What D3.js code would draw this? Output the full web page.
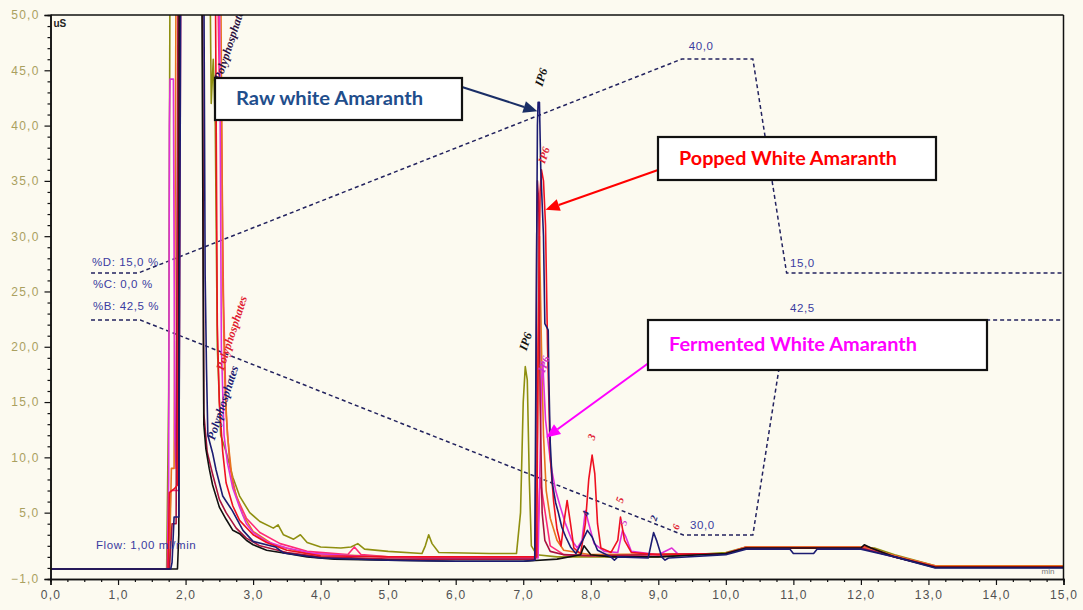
<!DOCTYPE html>
<html><head><meta charset="utf-8">
<script src="https://cdn.jsdelivr.net/npm/d3@7"></script>
<style>
html,body{margin:0;padding:0;background:#fcfaf0;}
svg{display:block;}
</style></head><body>
<svg id="chart" width="1083" height="610"></svg>
<script>
// ---- chromatogram traces: [retention time (min), conductivity (uS)] ----
const rawWhite = [[0,-0.1],[1.78,-0.1],[1.8,0.5],[1.83,4.6],[1.9,4.6],[1.93,55],[2.27,55],[2.29,26.5],[2.31,18],[2.33,12],[2.4,10.4],[2.45,8.9],[2.55,6.5],[2.69,5.2],[2.85,3.4],[3.0,2.4],[3.33,1.9],[3.45,1.35],[4.0,0.9],[5,0.7],[6,0.6],[7.0,0.6],[7.17,0.7],[7.19,20],[7.21,40],[7.22,42.1],[7.24,42.1],[7.26,36],[7.3,30],[7.32,22.1],[7.37,21.5],[7.38,17],[7.4,11.3],[7.43,7.7],[7.48,5.9],[7.52,5.0],[7.57,3.7],[7.63,2.8],[7.7,1.9],[7.78,1.3],[7.88,2.5],[7.95,3.4],[8.02,2.8],[8.1,1.6],[8.3,1.0],[8.35,0.7],[8.4,1.0],[8.85,0.9],[8.93,3.2],[8.98,2.4],[9.05,1.0],[9.1,0.7],[9.15,0.9],[10,1.2],[10.3,1.7],[10.95,1.7],[11.0,1.3],[11.3,1.3],[11.35,1.7],[12,1.7],[12.5,1.0],[13.1,0.0],[15,0.0]];
const poppedWhite = [[0,-0.1],[1.74,-0.1],[1.76,6.8],[1.84,7.2],[1.88,7.5],[1.91,55],[2.44,55],[2.47,22],[2.5,15],[2.55,10.5],[2.6,7.7],[2.7,5.6],[2.8,4.3],[3.0,3.0],[3.2,2.3],[3.5,1.6],[4.0,1.1],[5,1.0],[7.0,1.0],[7.2,1.0],[7.22,20],[7.25,34],[7.27,36],[7.3,35],[7.33,31],[7.36,20],[7.4,10],[7.45,6],[7.5,3.5],[7.56,2],[7.6,4],[7.65,6.1],[7.7,4],[7.75,1.8],[7.85,1.3],[7.92,4],[7.97,8],[8.02,10.2],[8.06,8.5],[8.1,4],[8.15,1.8],[8.3,1.4],[8.4,2.5],[8.44,4.6],[8.5,2.5],[8.6,1.4],[9.0,1.2],[10,1.3],[10.3,1.8],[12,1.8],[12.05,2.0],[12.15,1.8],[12.5,1.0],[13.1,0.1],[15,0.1]];
const fermentedWhite = [[0,-0.1],[1.73,-0.1],[1.75,8],[1.76,40],[1.77,44.2],[1.82,44.2],[1.84,12],[1.86,9],[1.9,55],[2.5,55],[2.53,20],[2.57,12],[2.62,9.5],[2.7,7.2],[2.8,5.5],[2.9,4.0],[3.0,3.2],[3.2,2.4],[3.5,1.8],[3.9,1.3],[4.5,1.1],[5.5,0.9],[7.0,0.9],[7.22,0.9],[7.25,10],[7.27,17],[7.29,18.5],[7.31,16],[7.33,13.4],[7.36,11.8],[7.4,9.8],[7.43,8.6],[7.48,7.0],[7.55,5.5],[7.62,4.1],[7.72,2.5],[7.8,1.8],[7.87,2.5],[7.92,5.2],[7.97,4.0],[8.05,2.2],[8.2,1.5],[8.4,1.4],[8.47,3.4],[8.52,2.8],[8.6,1.5],[9.0,1.2],[9.2,1.8],[9.3,1.2],[10,1.3],[10.3,1.8],[12,1.8],[12.5,1.0],[13.1,0.1],[15,0.1]];
const oliveRun = [[0,-0.1],[1.72,-0.1],[1.75,16],[1.77,55],[2.36,55],[2.38,42],[2.41,46],[2.44,40],[2.47,20],[2.52,12],[2.6,10.5],[2.7,8.2],[2.8,6.5],[2.95,5],[3.1,4.2],[3.3,3.6],[3.37,3.9],[3.45,3.0],[3.6,2.6],[3.7,3.0],[3.8,2.3],[4.0,1.9],[4.3,1.8],[4.45,1.9],[4.55,2.2],[4.65,1.7],[5.0,1.5],[5.5,1.3],[5.55,2.0],[5.6,3.0],[5.65,2.2],[5.75,1.4],[6.5,1.3],[6.9,1.3],[6.96,5],[7.0,15],[7.03,18.2],[7.06,17],[7.09,8],[7.12,2],[7.2,1.2],[7.5,1.0],[8.0,1.0],[9,1.0],[10,1.4],[10.3,1.9],[12,1.9],[12.2,1.8],[12.5,1.2],[13.1,0.2],[15,0.2]];
const blackRun = [[0,-0.1],[1.88,-0.1],[1.9,3],[1.905,55],[2.24,55],[2.27,13],[2.3,10.8],[2.35,9],[2.4,7.5],[2.5,5.5],[2.6,4.4],[2.7,3.4],[2.8,3.1],[2.9,2.5],[3.0,2.1],[3.2,1.6],[3.5,1.3],[3.8,1.0],[4.2,0.8],[5,0.7],[6,0.6],[7.0,0.6],[7.5,0.8],[7.85,1.2],[7.9,2.0],[8.0,1.2],[8.3,1.0],[9,1.0],[10,1.3],[10.3,1.8],[12,1.8],[12.05,2.1],[12.15,1.8],[12.5,1.0],[13.1,0.05],[15,0.05]];
const maroonRun = [[0,-0.1],[1.76,-0.1],[1.8,4],[1.86,4],[1.89,55],[2.25,55],[2.27,14],[2.32,10.5],[2.4,8.5],[2.5,6.2],[2.6,5],[2.75,3.6],[2.9,2.7],[3.1,2.0],[3.5,1.4],[4.0,1.0],[5,0.8],[7.0,0.8],[7.18,0.8],[7.2,30],[7.21,35],[7.23,33],[7.25,15],[7.28,5],[7.32,2.5],[7.4,1.5],[7.6,1.2],[8,1.1],[10,1.3],[10.3,1.8],[12,1.8],[12.5,1.0],[13.1,0.1],[15,0.1]];
const pinkRun = [[0,-0.1],[1.75,-0.1],[1.78,7],[1.9,7],[1.93,55],[2.47,55],[2.5,44],[2.53,42],[2.56,25],[2.6,14],[2.66,9],[2.75,6.5],[2.9,4.5],[3.1,3.2],[3.4,2.2],[3.8,1.5],[4.4,1.2],[4.5,1.9],[4.6,1.2],[5,1.0],[7.2,1.0],[7.25,8],[7.3,6],[7.4,2],[7.6,1.2],[8.0,1.1],[10,1.3],[10.3,1.9],[12,1.9],[12.5,1.1],[13.1,0.15],[15,0.15]];
const orangeRun = [[0,-0.1],[1.76,-0.1],[1.79,9],[1.83,9],[1.86,55],[2.52,55],[2.55,26],[2.58,17],[2.62,12],[2.7,7.5],[2.85,4.8],[3.0,3.3],[3.3,2.1],[3.8,1.3],[5,1.0],[7.18,1.0],[7.21,12],[7.24,30],[7.27,20],[7.3,12],[7.34,7],[7.4,4.5],[7.5,2.5],[7.6,1.6],[8,1.2],[10,1.3],[10.3,1.9],[12,1.9],[12.5,1.1],[13.1,0.2],[15,0.2]];

// ---- eluent gradient programs: [time (min), percent] ----
const gradientD = [[0.6,15],[1.3,15],[9.35,40],[10.4,40],[10.9,15],[15,15]];
const gradientB = [[0.6,42.5],[1.33,42.5],[9.37,30],[10.4,30],[10.9,42.5],[15,42.5]];

// ---- axis ticks ----
const yTicks = [-1,5,10,15,20,25,30,35,40,45,50];
const xTicks = d3.range(0,16);

const traces = [
  {data: oliveRun, color:"#8f8f10"},
  {data: pinkRun, color:"#ff2a78"},
  {data: orangeRun, color:"#e8741e"},
  {data: fermentedWhite, color:"#e030d8"},
  {data: maroonRun, color:"#a8123e"},
  {data: poppedWhite, color:"#ee1020"},
  {data: blackRun, color:"#111111"},
  {data: rawWhite, color:"#1c1c72"}
];

const svg = d3.select("#chart");
const x = d3.scaleLinear().domain([0,15]).range([50.5,1063.5]);
const y = d3.scaleLinear().domain([-1,50]).range([579,15]);
const gradDScale = d3.scaleLinear().domain([15,40]).range([273,59]);
const gradBScale = d3.scaleLinear().domain([30,42.5]).range([535,320]);

svg.append("rect").attr("width",1083).attr("height",610).attr("fill","#fcfaf0");

svg.append("clipPath").attr("id","plotClip")
  .append("rect").attr("x",x(0)).attr("y",y(50)).attr("width",x(15)-x(0)).attr("height",y(-1)-y(50));

const fmt = v => d3.format(".1f")(v).replace(".",",");

// gradient overlays
const gLayer = svg.append("g").attr("clip-path","url(#plotClip)");
gLayer.append("path").datum(gradientD)
  .attr("d", d3.line().x(d=>x(d[0])).y(d=>gradDScale(d[1])))
  .attr("fill","none").attr("stroke","#22225e").attr("stroke-width",1.5).attr("stroke-dasharray","4,3");
gLayer.append("path").datum(gradientB)
  .attr("d", d3.line().x(d=>x(d[0])).y(d=>gradBScale(d[1])))
  .attr("fill","none").attr("stroke","#22225e").attr("stroke-width",1.5).attr("stroke-dasharray","4,3");

// chromatograms
const line = d3.line().x(d=>x(d[0])).y(d=>y(d[1]));
const tLayer = svg.append("g").attr("clip-path","url(#plotClip)");
traces.forEach(t=>{
  tLayer.append("path").datum(t.data).attr("d",line)
    .attr("fill","none").attr("stroke",t.color).attr("stroke-width",1.6).attr("stroke-linejoin","round");
});

// gradient annotation text
const gradText = svg.append("g").attr("font-family","Liberation Sans, Arial, sans-serif")
  .attr("font-size",11.5).attr("fill","#3a3aa0").attr("letter-spacing",0.6);
gradText.append("text").attr("x",92).attr("y",gradDScale(15)-7).text("%D: 15,0 %");
gradText.append("text").attr("x",93).attr("y",gradDScale(15)+15).text("%C: 0,0 %");
gradText.append("text").attr("x",93).attr("y",gradBScale(42.5)-10).text("%B: 42,5 %");
gradText.append("text").attr("x",x(9.45)).attr("y",gradDScale(40)-9).text(fmt(40));
gradText.append("text").attr("x",x(10.95)).attr("y",gradDScale(15)-6).text(fmt(15));
gradText.append("text").attr("x",x(10.95)).attr("y",gradBScale(42.5)-8).text(fmt(42.5));
gradText.append("text").attr("x",x(9.47)).attr("y",gradBScale(30)-6).text(fmt(30));
gradText.append("text").attr("x",96).attr("y",549).text("Flow: 1,00 ml/min");

// peak labels (rotated, as printed by the integration software)
const peakLabels = [
  {t:2.53, v:44, text:"Polyphosphates", color:"#2a1040", size:12},
  {t:2.56, v:17.8, text:"Polyphosphates", color:"#e02030", size:12},
  {t:2.43, v:11.5, text:"Polyphosphates", color:"#1c1c72", size:12},
  {t:7.28, v:43.5, text:"IP6", color:"#111", size:12},
  {t:7.32, v:36.5, text:"IP6", color:"#e02030", size:11},
  {t:7.05, v:19.6, text:"IP6", color:"#111", size:12},
  {t:7.32, v:17.6, text:"IP6", color:"#d030c8", size:11},
  {t:8.05, v:11.5, text:"3", color:"#e02030", size:11},
  {t:8.47, v:5.8, text:"5", color:"#e02030", size:11},
  {t:7.96, v:4.6, text:"4", color:"#1c1c72", size:10},
  {t:8.52, v:3.8, text:"5", color:"#d030c8", size:10},
  {t:8.97, v:4.2, text:"2", color:"#1c1c72", size:10},
  {t:9.3, v:3.4, text:"6", color:"#e02030", size:10}
];
const plLayer = svg.append("g").attr("clip-path","url(#plotClip)");
peakLabels.forEach(p=>{
  plLayer.append("text")
    .attr("transform",`translate(${x(p.t)},${y(p.v)}) rotate(-72)`)
    .attr("font-family","Liberation Serif, Times New Roman, serif")
    .attr("font-style","italic").attr("font-weight","bold")
    .attr("font-size",p.size).attr("fill",p.color).text(p.text);
});

// axes
const axisColor = "#111";
const yAxis = svg.append("g").attr("transform",`translate(${x(0)},0)`)
  .call(d3.axisLeft(y).tickValues(yTicks).tickSize(6).tickFormat(fmt));
yAxis.selectAll("text").attr("font-family","Liberation Sans, Arial, sans-serif")
  .attr("font-size",12).attr("fill","#aaa060").attr("letter-spacing",1.2).attr("dx",-2);
svg.append("g").attr("transform",`translate(${x(0)},0)`)
  .call(d3.axisLeft(y).tickValues(d3.range(-1,51,1).filter(v=>!yTicks.includes(v))).tickSize(3).tickFormat(""));

const xAxis = svg.append("g").attr("transform",`translate(0,${y(-1)})`)
  .call(d3.axisBottom(x).tickValues(xTicks).tickSize(6).tickFormat(fmt));
xAxis.selectAll("text").attr("font-family","Liberation Sans, Arial, sans-serif")
  .attr("font-size",12).attr("fill","#505050").attr("letter-spacing",1.2).attr("dy","0.9em");
svg.append("g").attr("transform",`translate(0,${y(-1)})`)
  .call(d3.axisBottom(x).tickValues(d3.range(0,15.01,0.25).filter(v=>v%1!==0)).tickSize(3).tickFormat(""));

svg.selectAll(".domain").attr("stroke",axisColor).attr("stroke-width",1.5);
svg.selectAll(".tick line").attr("stroke",axisColor).attr("stroke-width",1.2);

// frame: top and right borders
svg.append("line").attr("x1",x(0)).attr("x2",x(15)).attr("y1",y(50)).attr("y2",y(50)).attr("stroke","#111").attr("stroke-width",1.5);
svg.append("line").attr("x1",x(15)).attr("x2",x(15)).attr("y1",y(50)).attr("y2",y(-1)).attr("stroke","#111").attr("stroke-width",1.5);

svg.append("text").attr("x",x(0)+3).attr("y",y(50)+12).attr("font-family","Liberation Sans, Arial, sans-serif")
  .attr("font-size",10).attr("font-weight","bold").attr("fill","#222").text("uS");
svg.append("text").attr("x",x(15)-22).attr("y",y(-1)-5).attr("font-family","Liberation Sans, Arial, sans-serif")
  .attr("font-size",8).attr("fill","#777").text("min");

// callouts
const callouts = [
  {text:"Raw white Amaranth", color:"#1f4e8c", arrow:"#1a2e66", box:[215,78,462,120], tw:187, from:[462,87], tip:[7.21,41.3]},
  {text:"Popped White Amaranth", color:"#ff0000", arrow:"#ff0000", box:[658,137,936,180], tw:218, from:[658,170], tip:[7.33,32.4]},
  {text:"Fermented White Amaranth", color:"#ff00ff", arrow:"#ff00ff", box:[648,320,987,370], tw:248, from:[650,362], tip:[7.34,11.8]}
];
const cLayer = svg.append("g");
callouts.forEach(c=>{
  const [x0,y0,x1,y1] = c.box;
  const tx = x(c.tip[0]), ty = y(c.tip[1]);
  const [fx,fy] = c.from;
  const ang = Math.atan2(ty-fy, tx-fx);
  const hl = 14, hw = 6;
  const bx = tx - hl*Math.cos(ang), by = ty - hl*Math.sin(ang);
  cLayer.append("line").attr("x1",fx).attr("y1",fy).attr("x2",bx).attr("y2",by)
    .attr("stroke",c.arrow).attr("stroke-width",2);
  cLayer.append("polygon").attr("points",[
    [tx,ty],
    [bx + hw*Math.sin(ang), by - hw*Math.cos(ang)],
    [bx - hw*Math.sin(ang), by + hw*Math.cos(ang)]
  ].map(p=>p.join(",")).join(" ")).attr("fill",c.arrow);
  cLayer.append("rect").attr("x",x0).attr("y",y0).attr("width",x1-x0).attr("height",y1-y0)
    .attr("fill","#ffffff").attr("stroke","#111").attr("stroke-width",2.2);
  cLayer.append("text").attr("x",x0+21).attr("y",(y0+y1)/2+6)
    .attr("font-family","Lato, Open Sans, sans-serif").attr("font-weight","bold")
    .attr("font-size",18).attr("fill",c.color)
    .attr("textLength",c.tw).attr("lengthAdjust","spacingAndGlyphs").text(c.text);
});
</script></body></html>
